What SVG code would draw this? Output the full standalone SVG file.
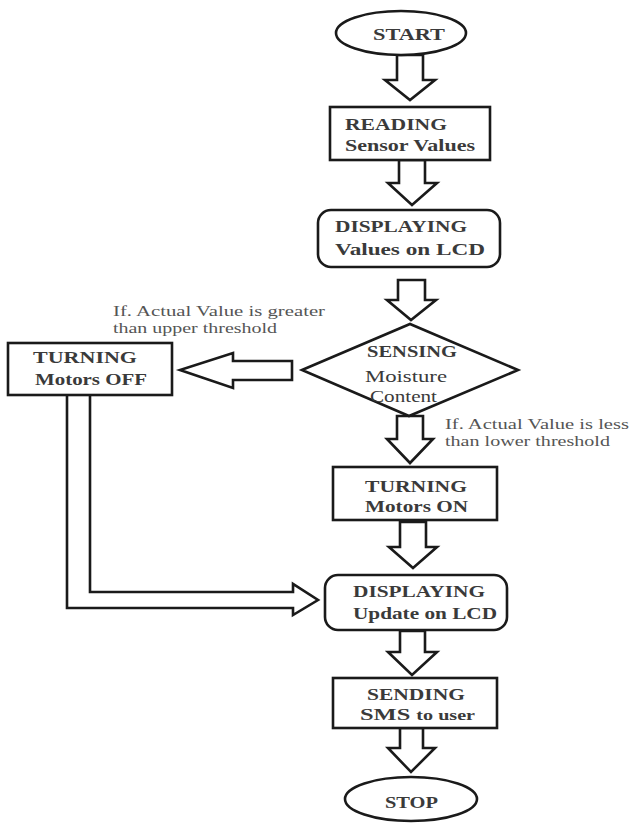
<svg xmlns="http://www.w3.org/2000/svg" width="630" height="828" viewBox="0 0 630 828">
<style>
.shape{fill:#fff;stroke:#1a1a1a;stroke-width:2.6}
.arrow{fill:#fff;stroke:#1a1a1a;stroke-width:2.6;stroke-linejoin:miter}
.t{font-family:"Liberation Serif","Times New Roman",serif;font-weight:bold;font-size:17px;fill:#3a3a3a}
.n{font-family:"Liberation Serif","Times New Roman",serif;font-weight:normal;font-size:17px;fill:#3a3a3a}
.lbl{font-family:"Liberation Serif","Times New Roman",serif;font-size:14px;fill:#555}
</style>
<rect width="630" height="828" fill="#fff"/>
<g id="connectors">
<path class="arrow" d="M397,55 V80 H385 L410,100 L435,80 H423 V55 Z"/>
<path class="arrow" d="M399,160 V183 H388 L412,205 L437,183 H425 V160 Z"/>
<path class="arrow" d="M398,280 V300 H387 L411,320 L436,300 H425 V280 Z"/>
<path class="arrow" d="M397,416 V439 H387 L410,463 L433,439 H423 V416 Z"/>
<path class="arrow" d="M400,522 V547 H389 L413,568 L437,547 H426 V522 Z"/>
<path class="arrow" d="M400,631 V652 H388 L412,675 L437,652 H425 V631 Z"/>
<path class="arrow" d="M400,728 V748 H388 L411,772 L435,748 H423 V728 Z"/>
<path class="arrow" d="M292,361 H233 V353 L180,370 L233,388 V380 H292 Z"/>
<path class="arrow" d="M67,395 V608 H293 V615 L318,600 L293,584 V592 H90 V395"/>
</g>
<g id="start">
<ellipse class="shape" cx="401" cy="33" rx="65" ry="22"/>
<text class="t" x="373" y="40" textLength="72" lengthAdjust="spacingAndGlyphs">START</text>
</g>
<g id="reading">
<rect class="shape" x="330" y="107" width="160" height="53"/>
<text class="t" x="345" y="130" textLength="102" lengthAdjust="spacingAndGlyphs">READING</text>
<text class="t" x="345" y="151" textLength="130" lengthAdjust="spacingAndGlyphs">Sensor Values</text>
</g>
<g id="display1">
<rect class="shape" x="318" y="210" width="182" height="57" rx="13"/>
<text class="t" x="335" y="232" textLength="132" lengthAdjust="spacingAndGlyphs">DISPLAYING</text>
<text class="t" x="335" y="255" textLength="150" lengthAdjust="spacingAndGlyphs">Values on LCD</text>
</g>
<g id="sensing">
<polygon class="shape" points="302,370 410,324 518,370 409,416"/>
<text class="t" x="367" y="357" textLength="90" lengthAdjust="spacingAndGlyphs">SENSING</text>
<text class="n" x="365" y="382" textLength="82" lengthAdjust="spacingAndGlyphs">Moisture</text>
<text class="n" x="370" y="402" textLength="67" lengthAdjust="spacingAndGlyphs">Content</text>
</g>
<g id="label-greater">
<text class="lbl" x="113" y="316" textLength="212" lengthAdjust="spacingAndGlyphs">If. Actual Value is greater</text>
<text class="lbl" x="113" y="333" textLength="164" lengthAdjust="spacingAndGlyphs">than upper threshold</text>
</g>
<g id="label-less">
<text class="lbl" x="445" y="429" textLength="184" lengthAdjust="spacingAndGlyphs">If. Actual Value is less</text>
<text class="lbl" x="445" y="446" textLength="165" lengthAdjust="spacingAndGlyphs">than lower threshold</text>
</g>
<g id="motors-off">
<rect class="shape" x="8" y="343" width="164" height="52"/>
<text class="t" x="33" y="363" textLength="104" lengthAdjust="spacingAndGlyphs">TURNING</text>
<text class="t" x="35" y="385" textLength="112" lengthAdjust="spacingAndGlyphs">Motors OFF</text>
</g>
<g id="motors-on">
<rect class="shape" x="333" y="467" width="164" height="53"/>
<text class="t" x="365" y="492" textLength="102" lengthAdjust="spacingAndGlyphs">TURNING</text>
<text class="t" x="365" y="512" textLength="103" lengthAdjust="spacingAndGlyphs">Motors ON</text>
</g>
<g id="display2">
<rect class="shape" x="325" y="575" width="182" height="55" rx="13"/>
<text class="t" x="353" y="597" textLength="132" lengthAdjust="spacingAndGlyphs">DISPLAYING</text>
<text class="t" x="353" y="619" textLength="144" lengthAdjust="spacingAndGlyphs">Update on LCD</text>
</g>
<g id="sending">
<rect class="shape" x="333" y="678" width="164" height="50"/>
<text class="t" x="367" y="700" textLength="98" lengthAdjust="spacingAndGlyphs">SENDING</text>
<text class="t" x="360" y="720" textLength="115" lengthAdjust="spacingAndGlyphs">SMS <tspan style="font-size:14px">to user</tspan></text>
</g>
<g id="stop">
<ellipse class="shape" cx="411" cy="799" rx="66" ry="22"/>
<text class="t" x="385" y="808" textLength="53" lengthAdjust="spacingAndGlyphs">STOP</text>
</g>
</svg>
